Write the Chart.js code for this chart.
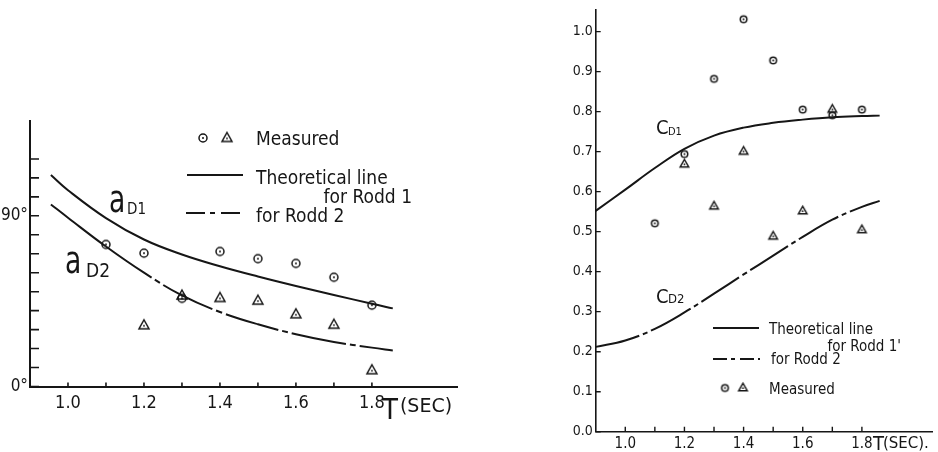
<!DOCTYPE html>
<html>
<head>
<meta charset="utf-8">
<script src="https://cdn.jsdelivr.net/npm/chart.js@4"></script>
<style>
  body { margin: 0; background: #fff; width: 938px; height: 452px; position: relative; overflow: hidden; }
  .box { position: absolute; top: 0; height: 452px; }
  #left { left: 0; width: 470px; }
  #right { left: 560px; width: 378px; }
</style>
</head>
<body>
<div class="box" id="left"><canvas id="angle"></canvas></div>
<div class="box" id="right"><canvas id="drag"></canvas></div>
<script>
// measured periods T (sec)
const periodsRodd1 = [1.1, 1.2, 1.3, 1.4, 1.5, 1.6, 1.7, 1.8];
const periodsRodd2 = [1.2, 1.3, 1.4, 1.5, 1.6, 1.7, 1.8];

// left panel: phase angle aD (deg)
const angleCurveT = [0.955, 1.0, 1.1, 1.2, 1.3, 1.4, 1.5, 1.6, 1.7, 1.8, 1.855];
const aD1Line = [111.5, 103.5, 88.8, 77.5, 69.6, 63.4, 58, 53, 48.3, 43.6, 41.2];
const aD2Line = [96, 89, 73.8, 60, 48, 39.3, 32.8, 27.6, 23.5, 20.5, 19];
const aD1Measured = [74.9, 70.3, 46.5, 71.2, 67.4, 64.9, 57.6, 42.9];
const aD2Measured = [32.8, 48.5, 47.2, 45.8, 38.6, 33.1, 9.1];

// right panel: drag coefficient CD
const coefCurveT = [0.9, 1.0, 1.1, 1.2, 1.3, 1.4, 1.5, 1.6, 1.7, 1.8, 1.86];
const cD1Line = [0.552, 0.605, 0.659, 0.707, 0.74, 0.76, 0.772, 0.78, 0.786, 0.789, 0.79];
const cD2Line = [0.212, 0.228, 0.257, 0.298, 0.345, 0.393, 0.44, 0.487, 0.53, 0.562, 0.577];
const cD1Measured = [0.521, 0.694, 0.882, 1.031, 0.928, 0.805, 0.791, 0.805];
const cD2Measured = [0.671, 0.566, 0.703, 0.491, 0.554, 0.808, 0.507];

// ticks
const periodTicks = [1.0, 1.1, 1.2, 1.3, 1.4, 1.5, 1.6, 1.7, 1.8];
const angleTicks = [0, 10, 20, 30, 40, 50, 60, 70, 80, 90, 100, 110, 120];
const coefTicks = [0, 0.1, 0.2, 0.3, 0.4, 0.5, 0.6, 0.7, 0.8, 0.9, 1.0];

const INK = '#161616';
const numFont = "'Liberation Sans Narrow', 'DejaVu Sans Condensed', sans-serif";
const textFont = "'DejaVu Sans Condensed', 'DejaVu Sans', sans-serif";

const pts = (xs, ys) => xs.map((x, i) => ({ x: x, y: ys[i] }));

// dotted circle and dotted triangle markers
function circleMark(r) {
  const c = document.createElement('canvas');
  const s = Math.ceil(r * 2 + 4);
  c.width = c.height = s;
  const g = c.getContext('2d');
  g.strokeStyle = INK; g.lineWidth = 1.5;
  g.beginPath(); g.arc(s / 2, s / 2, r, 0, Math.PI * 2); g.stroke();
  g.fillStyle = INK;
  g.beginPath(); g.arc(s / 2, s / 2, 1, 0, Math.PI * 2); g.fill();
  return c;
}
function triangleMark(w, h) {
  const c = document.createElement('canvas');
  c.width = Math.ceil(w + 4); c.height = Math.ceil(h + 4);
  const g = c.getContext('2d');
  const cx = c.width / 2, top = (c.height - h) / 2;
  g.strokeStyle = INK; g.lineWidth = 1.5; g.lineJoin = 'miter';
  g.beginPath();
  g.moveTo(cx, top); g.lineTo(cx + w / 2, top + h); g.lineTo(cx - w / 2, top + h); g.closePath();
  g.stroke();
  g.fillStyle = INK;
  g.beginPath(); g.arc(cx, top + h * 0.66, 0.9, 0, Math.PI * 2); g.fill();
  return c;
}

const bigCircle = circleMark(4);
const bigTriangle = triangleMark(10, 9);
const smallCircle = circleMark(3.3);
const smallTriangle = triangleMark(8.5, 7.5);

function text(ctx, str, x, y, font, align) {
  ctx.font = font;
  ctx.textAlign = align || 'left';
  ctx.textBaseline = 'alphabetic';
  ctx.fillText(str, x, y);
}
function sample(ctx, x1, x2, y, dash, w) {
  ctx.save();
  ctx.lineWidth = w;
  ctx.setLineDash(dash);
  ctx.beginPath(); ctx.moveTo(x1, y); ctx.lineTo(x2, y); ctx.stroke();
  ctx.restore();
}
// narrow "a" like the lettering on the drawing
function bigA(ctx, x, y) {
  ctx.save();
  ctx.translate(x, y);
  ctx.scale(0.7, 1);
  text(ctx, 'a', 0, 0, "38px 'DejaVu Sans', sans-serif");
  ctx.restore();
}

// tick marks pointing into the plot
function inwardTicks(xLen, yLen, width) {
  return {
    id: 'inwardTicks',
    afterDatasetsDraw(chart) {
      const { ctx, chartArea, scales } = chart;
      ctx.save();
      ctx.strokeStyle = INK; ctx.lineWidth = width;
      ctx.beginPath();
      scales.x.ticks.forEach(t => {
        const px = scales.x.getPixelForValue(t.value);
        ctx.moveTo(px, chartArea.bottom); ctx.lineTo(px, chartArea.bottom - xLen);
      });
      scales.y.ticks.forEach(t => {
        const py = scales.y.getPixelForValue(t.value);
        ctx.moveTo(chartArea.left, py); ctx.lineTo(chartArea.left + yLen, py);
      });
      ctx.stroke();
      ctx.restore();
    }
  };
}

function fixScale(size, key) {
  return function (scale) {
    scale[key] = size;
    scale.paddingLeft = scale.paddingRight = scale.paddingTop = scale.paddingBottom = 0;
  };
}

function curve(data, dashed) {
  return {
    type: 'line', data: data, borderColor: INK, borderWidth: 2,
    pointRadius: 0, tension: 0.4, fill: false,
    segment: dashed ? { borderDash: dashed } : undefined
  };
}
function marks(data, img) {
  return { type: 'line', data: data, showLine: false, pointStyle: img, pointRadius: 5, borderColor: INK, backgroundColor: '#fff' };
}

// ---------- left: phase angle ----------
const angleNotes = {
  id: 'angleNotes',
  afterDraw(chart) {
    const { ctx, scales } = chart;
    ctx.save();
    ctx.fillStyle = INK; ctx.strokeStyle = INK;
    ctx.drawImage(bigCircle, 203 - bigCircle.width / 2, 138 - bigCircle.height / 2);
    ctx.drawImage(bigTriangle, 227 - bigTriangle.width / 2, 137 - bigTriangle.height / 2);
    const lf = '19px ' + textFont;
    text(ctx, 'Measured', 256, 145, lf);
    sample(ctx, 187, 243, 175, [], 2);
    text(ctx, 'Theoretical line', 256, 184, lf);
    text(ctx, 'for Rodd 1', 412, 203, lf, 'right');
    sample(ctx, 186, 243, 213, [19, 5, 5, 6], 2);
    text(ctx, 'for Rodd 2', 256, 222, lf);

    bigA(ctx, 109, 212);
    text(ctx, 'D1', 127, 214, '15px ' + textFont);
    bigA(ctx, 65, 273);
    text(ctx, 'D2', 86, 277, '19px ' + textFont);

    const px = scales.x.getPixelForValue(1.8);
    text(ctx, 'T', px + 10, 419, "29px 'DejaVu Sans Condensed', sans-serif");
    text(ctx, '(SEC)', px + 28, 412, "19px 'DejaVu Sans', sans-serif");
    ctx.restore();
  }
};

new Chart(document.getElementById('angle'), {
  type: 'line',
  data: {
    datasets: [
      curve(pts(angleCurveT, aD1Line)),
      curve(pts(angleCurveT, aD2Line), ctx => ctx.p0.parsed.x < 1.1 ? [] : [55, 4, 6, 4]),
      marks(pts(periodsRodd1, aD1Measured), bigCircle),
      marks(pts(periodsRodd2, aD2Measured), bigTriangle)
    ]
  },
  options: {
    responsive: true,
    maintainAspectRatio: false,
    animation: false,
    events: [],
    layout: { padding: { left: 0, top: 121, right: 13, bottom: 0 } },
    plugins: { legend: { display: false }, tooltip: { enabled: false } },
    scales: {
      x: {
        type: 'linear', min: 0.9, max: 2.024,
        afterBuildTicks: s => { s.ticks = periodTicks.map(v => ({ value: v })); },
        afterFit: fixScale(65.5, 'height'),
        grid: { display: false, drawTicks: false },
        border: { color: INK, width: 2 },
        ticks: {
          color: INK, padding: 6, maxRotation: 0, autoSkip: false,
          font: { family: numFont, size: 18 },
          callback: v => Math.round(v * 10) % 2 === 0 ? v.toFixed(1) : ''
        }
      },
      y: {
        min: 0, max: 140,
        afterBuildTicks: s => { s.ticks = angleTicks.map(v => ({ value: v })); },
        afterFit: fixScale(30, 'width'),
        grid: { display: false, drawTicks: false },
        border: { color: INK, width: 2 },
        ticks: {
          color: INK, padding: 2, autoSkip: false,
          font: { family: numFont, size: 17 },
          callback: v => v === 90 ? '90°' : (v === 0 ? '0°' : '')
        }
      }
    }
  },
  plugins: [inwardTicks(4, 9, 1.6), angleNotes]
});

// ---------- right: drag coefficient ----------
const coefNotes = {
  id: 'coefNotes',
  afterDraw(chart) {
    const { ctx, scales } = chart;
    ctx.save();
    ctx.fillStyle = INK; ctx.strokeStyle = INK;
    const lf = '15px ' + textFont;
    sample(ctx, 153, 199, 328, [], 1.8);
    text(ctx, 'Theoretical line', 209, 334, lf);
    text(ctx, "for Rodd 1'", 341, 351, lf, 'right');
    sample(ctx, 153, 200, 359, [14, 4, 4, 5], 1.8);
    text(ctx, 'for Rodd 2', 211, 364, lf);
    ctx.drawImage(smallCircle, 165 - smallCircle.width / 2, 388 - smallCircle.height / 2);
    ctx.drawImage(smallTriangle, 183 - smallTriangle.width / 2, 387 - smallTriangle.height / 2);
    text(ctx, 'Measured', 209, 394, lf);

    text(ctx, 'C', 96, 134, '20px ' + textFont);
    text(ctx, 'D1', 108, 135, '11px ' + textFont);
    text(ctx, 'C', 96, 303, '20px ' + textFont);
    text(ctx, 'D2', 108, 303, '13px ' + textFont);

    const px = scales.x.getPixelForValue(1.8);
    text(ctx, 'T', px + 11, 450, '20px ' + numFont);
    text(ctx, '(SEC).', px + 21, 448, "15px 'DejaVu Sans', sans-serif");
    ctx.restore();
  }
};

new Chart(document.getElementById('drag'), {
  type: 'line',
  data: {
    datasets: [
      curve(pts(coefCurveT, cD1Line)),
      curve(pts(coefCurveT, cD2Line), () => [45, 4, 5, 4]),
      marks(pts(periodsRodd1, cD1Measured), smallCircle),
      marks(pts(periodsRodd2, cD2Measured), smallTriangle)
    ]
  },
  options: {
    responsive: true,
    maintainAspectRatio: false,
    animation: false,
    events: [],
    layout: { padding: { left: 0, top: 10, right: 3, bottom: 0 } },
    plugins: { legend: { display: false }, tooltip: { enabled: false } },
    scales: {
      x: {
        type: 'linear', min: 0.9, max: 2.037,
        afterBuildTicks: s => { s.ticks = periodTicks.map(v => ({ value: v })); },
        afterFit: fixScale(20.3, 'height'),
        grid: { display: false, drawTicks: false },
        border: { color: INK, width: 1.6 },
        ticks: {
          color: INK, padding: 3, maxRotation: 0, autoSkip: false,
          font: { family: numFont, size: 15 },
          callback: v => Math.round(v * 10) % 2 === 0 ? v.toFixed(1) : ''
        }
      },
      y: {
        min: 0, max: 1.054,
        afterBuildTicks: s => { s.ticks = coefTicks.map(v => ({ value: v })); },
        afterFit: fixScale(35.7, 'width'),
        grid: { display: false, drawTicks: false },
        border: { color: INK, width: 1.6 },
        ticks: {
          color: INK, padding: 3, autoSkip: false,
          font: { family: numFont, size: 14 },
          callback: v => v.toFixed(1)
        }
      }
    }
  },
  plugins: [inwardTicks(5, 5, 1.4), coefNotes]
});
</script>
</body>
</html>
